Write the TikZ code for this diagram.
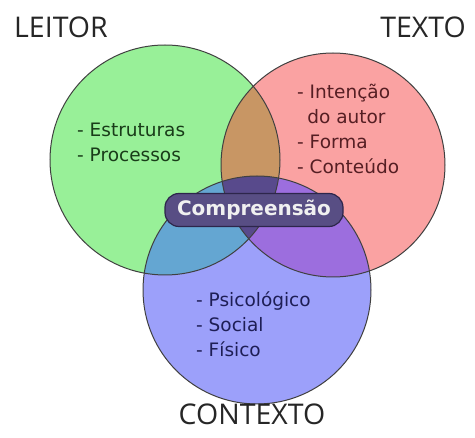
\documentclass[tikz,border=0pt]{standalone}
\usepackage{fontspec}
\setmainfont{DejaVu Sans}
\newfontfamily\headfont{Open Sans}
\usepackage{tikz}

\definecolor{leitorfill}{RGB}{152,240,152}
\definecolor{textofill}{RGB}{250,162,162}
\definecolor{contextofill}{RGB}{156,160,250}
\definecolor{lrfill}{RGB}{200,150,100}
\definecolor{lcfill}{RGB}{100,166,210}
\definecolor{tcfill}{RGB}{156,110,222}
\definecolor{allfill}{RGB}{88,74,140}
\definecolor{boxfill}{RGB}{88,78,132}
\definecolor{boxline}{RGB}{45,38,75}
\definecolor{leitortext}{RGB}{25,60,25}
\definecolor{textotext}{RGB}{85,30,35}
\definecolor{contextotext}{RGB}{30,30,85}

\tikzset{
  ring/.style={draw=black!75, line width=1pt},
  heading/.style={font=\headfont\fontsize{28.5}{32}\selectfont, text=black!85},
  itemlist/.style={font=\fontsize{18.5}{25}\selectfont, align=left, anchor=north west, inner sep=0pt},
  centrebox/.style={draw=boxline, line width=1.2pt, fill=boxfill, rounded corners=14pt,
    text=white!94!black, font=\bfseries\fontsize{20}{22}\selectfont, minimum width=178pt, minimum height=33pt, inner sep=2pt}
}

\begin{document}
\begin{tikzpicture}[x=1pt,y=1pt,yscale=-1]
\useasboundingbox (0,0) rectangle (475,438);

% circle fills
\fill [leitorfill] (165,160) circle (115);
\fill [textofill] (333,165) circle (112);
\fill [contextofill] (257,290) circle (114);

% overlaps
\begin{scope}
  \clip (165,160) circle (115);
  \fill [lrfill] (333,165) circle (112);
  \fill [lcfill] (257,290) circle (114);
  \clip (333,165) circle (112);
  \fill [allfill] (257,290) circle (114);
\end{scope}
\begin{scope}
  \clip (333,165) circle (112);
  \clip (257,290) circle (114);
  \fill [tcfill] (257,290) circle (114);
  \clip (165,160) circle (115);
  \fill [allfill] (257,290) circle (114);
\end{scope}

% outlines
\draw [ring] (165,160) circle (115);
\draw [ring] (333,165) circle (112);
\draw [ring] (257,290) circle (114);

% headings
\node [heading] (leitor) at (61,27) {LEITOR};
\node [heading] (texto) at (423,27) {TEXTO};
\node [heading] (contexto) at (252,414) {CONTEXTO};

% item lists
\node [itemlist, text=leitortext] (leitoritems) at (77,123) {- Estruturas\\- Processos};
\node [itemlist, text=textotext] (textoitems) at (297,84) {- Intenção\\\hspace*{0.55em}do autor\\- Forma\\- Conteúdo};
\node [itemlist, text=contextotext] (contextoitems) at (196,292) {- Psicológico\\- Social\\- Físico};

% centre label
\node [centrebox] (compreensao) at (254,210) {Compreensão};

\end{tikzpicture}
\end{document}
